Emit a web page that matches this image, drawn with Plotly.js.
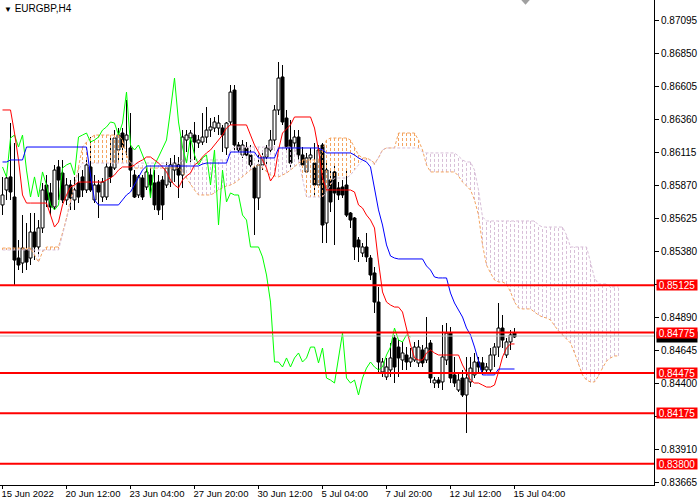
<!DOCTYPE html>
<html><head><meta charset="utf-8">
<script src="https://cdn.plot.ly/plotly-3.0.1.min.js"></script>
<style>html,body{margin:0;padding:0;background:#fff}#chart{width:700px;height:500px}</style>
</head><body><div id="chart"></div>
<script>
const symbolTitle = "EURGBP,H4";
const dateTickBars = [0,16,32,48,64,80,96,112,128];
const dateTickLabels = ["15 Jun 2022","20 Jun 12:00","23 Jun 04:00","27 Jun 20:00","30 Jun 12:00","5 Jul 04:00","7 Jul 20:00","12 Jul 12:00","15 Jul 04:00"];
const priceTicks = [0.87095,0.86850,0.86605,0.86360,0.86115,0.85870,0.85625,0.85380,0.85135,0.84890,0.84645,0.84400,0.84155,0.83910,0.83665];
const hiddenTicks = [0.85135,0.84155];
const levels = [0.85125,0.84775,0.84475,0.84175,0.83800];
const bidPrice = 0.84749;
const chikouShift = 26;

const open = [0.85722,0.85833,0.85930,0.85781,0.85328,0.85291,0.85388,0.85328,0.85521,0.85410,
0.85551,0.85870,0.85811,0.85707,0.86004,0.85959,0.85759,0.85870,0.85759,0.85885,
0.85930,0.85833,0.86004,0.85759,0.85870,0.85781,0.85781,0.86004,0.85996,0.86130,
0.86256,0.86204,0.86145,0.85944,0.85796,0.85922,0.85855,0.85944,0.85885,0.85892,
0.85907,0.85870,0.85892,0.85981,0.86019,0.85944,0.86204,0.86219,0.86241,0.86182,
0.86189,0.86226,0.86278,0.86293,0.86293,0.86293,0.86145,0.86338,0.86575,0.86167,
0.86093,0.86145,0.86093,0.85996,0.85774,0.86019,0.86078,0.86130,0.86204,0.86427,
0.86672,0.86367,0.86204,0.86182,0.86226,0.86093,0.85967,0.86071,0.86033,0.85870,
0.86167,0.85588,0.85907,0.85967,0.85848,0.85855,0.85870,0.85662,0.85625,0.85462,
0.85365,0.85410,0.85328,0.85217,0.85001,0.84482,0.84445,0.84497,0.84734,0.84667,
0.84571,0.84608,0.84556,0.84571,0.84549,0.84645,0.84571,0.84697,0.84400,0.84422,
0.84408,0.84571,0.84771,0.84460,0.84348,0.84437,0.84311,0.84408,0.84460,0.84556,
0.84549,0.84497,0.84497,0.84608,0.84667,0.84808,0.84608,0.84705,0.84771];
const high = [0.85930,0.85944,0.86330,0.86182,0.85462,0.85647,0.85588,0.85662,0.85662,0.85610,
0.85885,0.85944,0.85885,0.86019,0.86056,0.86056,0.85922,0.85907,0.85930,0.85959,
0.85981,0.86071,0.86226,0.85944,0.85907,0.85922,0.86033,0.86226,0.86278,0.86293,
0.86293,0.86501,0.86405,0.85981,0.85944,0.85944,0.86019,0.86019,0.85981,0.85944,
0.85937,0.86041,0.86071,0.86093,0.86078,0.86278,0.86278,0.86278,0.86338,0.86241,
0.86405,0.86449,0.86367,0.86375,0.86390,0.86316,0.86338,0.86612,0.86612,0.86189,
0.86204,0.86189,0.86167,0.86019,0.86115,0.86130,0.86167,0.86278,0.86464,0.86783,
0.86761,0.86427,0.86353,0.86278,0.86278,0.86152,0.86108,0.86145,0.86182,0.86167,
0.86182,0.86041,0.85981,0.86019,0.85892,0.85907,0.85981,0.85670,0.85633,0.85484,
0.85440,0.85514,0.85350,0.85261,0.85113,0.84586,0.84586,0.84697,0.84757,0.84719,
0.84705,0.84667,0.84660,0.84705,0.84719,0.84682,0.84890,0.84719,0.84445,0.84445,
0.84831,0.84846,0.84816,0.84593,0.84474,0.84497,0.84593,0.84593,0.84623,0.84593,
0.84593,0.84549,0.84660,0.84697,0.84994,0.84905,0.84734,0.84794,0.84808];
const low = [0.85647,0.85759,0.85759,0.85128,0.85239,0.85217,0.85239,0.85276,0.85313,0.85350,
0.85514,0.85707,0.85647,0.85685,0.85759,0.85736,0.85722,0.85685,0.85685,0.85736,
0.85781,0.85811,0.85818,0.85736,0.85625,0.85744,0.85759,0.85885,0.85981,0.86033,
0.86056,0.86093,0.85855,0.85774,0.85774,0.85759,0.85833,0.85774,0.85685,0.85647,
0.85610,0.85848,0.85855,0.85892,0.85774,0.85848,0.86115,0.86041,0.86056,0.86145,
0.86167,0.86182,0.86226,0.86264,0.86241,0.86115,0.86093,0.86316,0.86130,0.86093,
0.86071,0.86071,0.85996,0.85499,0.85685,0.85981,0.86019,0.86093,0.86167,0.86390,
0.86316,0.86130,0.85996,0.86145,0.86056,0.85996,0.85959,0.86033,0.85796,0.85848,
0.85440,0.85440,0.85670,0.85425,0.85759,0.85774,0.85633,0.85551,0.85313,0.85298,
0.85336,0.85298,0.85165,0.84920,0.84474,0.84445,0.84422,0.84445,0.84400,0.84445,
0.84497,0.84497,0.84519,0.84556,0.84519,0.84519,0.84549,0.84400,0.84363,0.84363,
0.84348,0.84534,0.84400,0.84370,0.84333,0.84296,0.84029,0.84370,0.84437,0.84482,
0.84460,0.84474,0.84482,0.84519,0.84593,0.84660,0.84586,0.84645,0.84734];
const close = [0.85796,0.85922,0.85818,0.85313,0.85276,0.85402,0.85298,0.85521,0.85410,0.85551,
0.85833,0.85759,0.85707,0.85981,0.85907,0.85759,0.85870,0.85774,0.85833,0.85781,
0.85833,0.86019,0.85833,0.85870,0.85818,0.85892,0.86004,0.85930,0.86219,0.86241,
0.86152,0.86241,0.85981,0.85781,0.85930,0.85781,0.85967,0.85870,0.85722,0.85685,
0.85722,0.85996,0.86019,0.86033,0.85944,0.86226,0.86241,0.86256,0.86189,0.86204,
0.86226,0.86278,0.86301,0.86338,0.86330,0.86241,0.86330,0.86560,0.86167,0.86130,
0.86167,0.86093,0.86019,0.85774,0.86019,0.86078,0.86145,0.86204,0.86427,0.86664,
0.86338,0.86152,0.86033,0.86226,0.86093,0.86019,0.86071,0.86093,0.85870,0.86130,
0.85573,0.85981,0.85744,0.85811,0.85796,0.85796,0.85647,0.85610,0.85410,0.85410,
0.85410,0.85336,0.85202,0.85001,0.84556,0.84556,0.84519,0.84586,0.84519,0.84586,
0.84623,0.84556,0.84586,0.84667,0.84667,0.84549,0.84660,0.84437,0.84422,0.84400,
0.84593,0.84771,0.84437,0.84400,0.84422,0.84311,0.84437,0.84511,0.84556,0.84519,
0.84497,0.84519,0.84608,0.84667,0.84808,0.84719,0.84705,0.84757,0.84742];

const tenkan = [0.86427,0.86427,0.86427,0.86256,0.86056,0.85796,0.85736,0.85736,0.85736,0.85736,
0.85736,0.85736,0.85647,0.85558,0.85595,0.85722,0.85796,0.85855,0.85870,0.85892,
0.85892,0.85892,0.85892,0.85892,0.85892,0.85892,0.85907,0.85922,0.85944,0.85981,
0.86004,0.86004,0.86004,0.86019,0.86041,0.86056,0.86078,0.86078,0.86056,0.86033,
0.86004,0.85967,0.85907,0.85870,0.85848,0.85907,0.85937,0.85959,0.86019,0.86041,
0.86078,0.86108,0.86130,0.86167,0.86204,0.86241,0.86293,0.86316,0.86316,0.86316,
0.86316,0.86316,0.86241,0.86167,0.86115,0.86056,0.85996,0.85900,0.85944,0.86130,
0.86256,0.86286,0.86316,0.86375,0.86375,0.86375,0.86375,0.86375,0.86293,0.86130,
0.85922,0.85833,0.85833,0.85833,0.85833,0.85833,0.85833,0.85833,0.85818,0.85722,
0.85699,0.85647,0.85610,0.85551,0.85298,0.85076,0.85001,0.84979,0.84964,0.84964,
0.84927,0.84808,0.84682,0.84586,0.84571,0.84571,0.84623,0.84645,0.84623,0.84608,
0.84608,0.84608,0.84608,0.84608,0.84608,0.84534,0.84482,0.84422,0.84400,0.84400,
0.84385,0.84370,0.84370,0.84385,0.84482,0.84593,0.84660,0.84690,0.84690];
const kijun = [0.86041,0.86041,0.86056,0.86056,0.86056,0.86056,0.86152,0.86152,0.86152,0.86152,
0.86152,0.86152,0.86152,0.86152,0.86152,0.86152,0.86152,0.86152,0.86152,0.86152,
0.86152,0.86152,0.85944,0.85759,0.85722,0.85722,0.85722,0.85722,0.85722,0.85722,
0.85759,0.85796,0.85818,0.85870,0.85930,0.85981,0.86011,0.86011,0.86011,0.86011,
0.86011,0.86011,0.86011,0.86011,0.86011,0.86011,0.86011,0.86011,0.86011,0.86011,
0.86026,0.86033,0.86033,0.86033,0.86033,0.86033,0.86033,0.86115,0.86115,0.86115,
0.86115,0.86115,0.86115,0.86115,0.86071,0.86071,0.86071,0.86071,0.86071,0.86145,
0.86145,0.86145,0.86145,0.86145,0.86145,0.86145,0.86145,0.86145,0.86145,0.86145,
0.86130,0.86108,0.86108,0.86108,0.86108,0.86108,0.86108,0.86108,0.86093,0.86071,
0.86056,0.86041,0.86004,0.85833,0.85685,0.85573,0.85425,0.85343,0.85328,0.85321,
0.85321,0.85321,0.85321,0.85321,0.85321,0.85321,0.85269,0.85239,0.85187,0.85180,
0.85180,0.85180,0.85068,0.84994,0.84942,0.84890,0.84808,0.84757,0.84667,0.84556,
0.84460,0.84460,0.84460,0.84460,0.84504,0.84504,0.84504,0.84504,0.84504];
const senkouA = [0.85402,0.85402,0.85402,0.85402,0.85402,0.85402,0.85402,0.85402,0.85350,0.85298,
0.85373,0.85410,0.85410,0.85410,0.85410,0.85514,0.85625,0.85759,0.85870,0.86004,
0.86152,0.86189,0.86219,0.86241,0.86241,0.86241,0.86241,0.86241,0.86241,0.86241,
0.86204,0.86093,0.86033,0.85996,0.85996,0.85996,0.85996,0.85996,0.85996,0.85996,
0.85996,0.85996,0.85996,0.85996,0.85996,0.85967,0.85922,0.85870,0.85833,0.85796,
0.85796,0.85796,0.85796,0.85811,0.85833,0.85848,0.85863,0.85870,0.85885,0.85907,
0.85930,0.85952,0.85981,0.86011,0.86019,0.85996,0.85967,0.85944,0.85937,0.85930,
0.85944,0.85959,0.85981,0.86004,0.86033,0.86056,0.86056,0.86056,0.86056,0.86056,
0.86130,0.86204,0.86219,0.86219,0.86219,0.86219,0.86219,0.86204,0.86145,0.86093,
0.86071,0.86071,0.86056,0.86033,0.86071,0.86130,0.86145,0.86145,0.86145,0.86256,
0.86256,0.86256,0.86256,0.86256,0.86204,0.86130,0.86019,0.85967,0.85967,0.85967,
0.85967,0.85967,0.85967,0.85967,0.85937,0.85892,0.85863,0.85833,0.85759,0.85647,
0.85425,0.85276,0.85217,0.85165,0.85150,0.85150,0.85135,0.85076,0.85001,0.84957,
0.84950,0.84950,0.84950,0.84927,0.84905,0.84890,0.84883,0.84868,0.84823,0.84786,
0.84757,0.84727,0.84697,0.84623,0.84534,0.84460,0.84422,0.84408,0.84408,0.84452,
0.84511,0.84563,0.84586,0.84601,0.84601];
const senkouB = [0.85388,0.85388,0.85388,0.85388,0.85388,0.85388,0.85388,0.85388,0.85388,0.85388,
0.85388,0.85388,0.85388,0.85388,0.85388,0.85500,0.85610,0.85740,0.85850,0.85981,
0.86033,0.86033,0.86033,0.86033,0.86033,0.86033,0.86033,0.86033,0.86033,0.86033,
0.86033,0.86033,0.86033,0.86033,0.86033,0.86033,0.86033,0.86033,0.86033,0.86033,
0.86033,0.86033,0.86033,0.86033,0.86033,0.86056,0.86056,0.86056,0.86056,0.86056,
0.86056,0.86056,0.86056,0.86056,0.86056,0.86056,0.86056,0.86130,0.86152,0.86152,
0.86152,0.86152,0.86152,0.86152,0.86152,0.86152,0.86152,0.86152,0.86152,0.86152,
0.86152,0.86152,0.86152,0.86152,0.86056,0.85907,0.85781,0.85781,0.85781,0.85781,
0.85781,0.85818,0.85870,0.85922,0.85922,0.85922,0.85922,0.85944,0.85981,0.86019,
0.86056,0.86056,0.86056,0.86019,0.86071,0.86130,0.86145,0.86145,0.86145,0.86145,
0.86145,0.86145,0.86145,0.86145,0.86145,0.86115,0.86108,0.86108,0.86108,0.86108,
0.86108,0.86108,0.86108,0.86108,0.86085,0.86056,0.86041,0.86041,0.85981,0.85833,
0.85633,0.85603,0.85603,0.85603,0.85603,0.85603,0.85603,0.85603,0.85603,0.85603,
0.85603,0.85603,0.85603,0.85603,0.85573,0.85558,0.85558,0.85558,0.85558,0.85558,
0.85558,0.85499,0.85410,0.85410,0.85410,0.85410,0.85410,0.85298,0.85180,0.85135,
0.85135,0.85135,0.85113,0.85113,0.85113];

const FONT = 'Liberation Sans, Arial, sans-serif';

// candle wicks and bodies (bar traces with base)
const idx = close.map((_, i) => i);
const wick = {
  type: 'bar', x: idx, base: low, y: high.map((h, i) => h - low[i]), width: 0.25,
  marker: {color: '#000000', line: {width: 0}}, hoverinfo: 'skip'
};
const body = {
  type: 'bar', x: idx,
  base: open.map((o, i) => Math.min(o, close[i])),
  y: open.map((o, i) => Math.abs(close[i] - o)),
  width: 0.75,
  marker: {color: open.map((o, i) => close[i] >= o ? '#FFFFFF' : '#000000'), line: {color: '#000000', width: 1}},
  hoverinfo: 'skip'
};

// cloud hatch between Senkou A and B
const hatchO = {x: [], y: []}, hatchT = {x: [], y: []};
senkouA.forEach((a, k) => {
  const b = senkouB[k];
  const h = a >= b ? hatchO : hatchT;
  h.x.push(k, k, null); h.y.push(a, b, null);
});
const spanIdx = senkouA.map((_, k) => k);
const DASH = '3px,2px';
const hatchThistle = {type: 'scatter', mode: 'lines', x: hatchT.x, y: hatchT.y, line: {color: '#D8BFD8', width: 1, dash: DASH}, connectgaps: false, hoverinfo: 'skip'};
const hatchSandy = {type: 'scatter', mode: 'lines', x: hatchO.x, y: hatchO.y, line: {color: '#F4A460', width: 1, dash: DASH}, connectgaps: false, hoverinfo: 'skip'};
const spanA = {type: 'scatter', mode: 'lines', x: spanIdx, y: senkouA, line: {color: '#F4A460', width: 1, dash: DASH}, hoverinfo: 'skip'};
const spanB = {type: 'scatter', mode: 'lines', x: spanIdx, y: senkouB, line: {color: '#D8BFD8', width: 1, dash: DASH}, hoverinfo: 'skip'};

// Chikou span: closes shifted back
const chX = [], chY = [];
close.forEach((c, i) => { if (i >= chikouShift) { chX.push(i - chikouShift); chY.push(c); } });
const chikou = {type: 'scatter', mode: 'lines', x: chX, y: chY, line: {color: '#00FF00', width: 1}, hoverinfo: 'skip'};
const tenkanTr = {type: 'scatter', mode: 'lines', x: idx, y: tenkan, line: {color: '#FF0000', width: 1}, hoverinfo: 'skip'};
const kijunTr = {type: 'scatter', mode: 'lines', x: idx, y: kijun, line: {color: '#0000FF', width: 1}, hoverinfo: 'skip'};

const shapes = [];
shapes.push({type: 'line', xref: 'paper', x0: 0, x1: 1, yref: 'y', y0: bidPrice, y1: bidPrice, line: {color: '#C0C0C0', width: 1}});
levels.forEach(lv => shapes.push({type: 'line', xref: 'paper', x0: 0, x1: 1, yref: 'y', y0: lv, y1: lv, line: {color: '#FF0000', width: 2}}));
// small grey shift marker at the top
shapes.push({type: 'path', xref: 'paper', yref: 'paper', path: 'M 0.797,1 L 0.810,1 L 0.8035,0.990 Z', fillcolor: '#A0A0A0', line: {width: 0}});

const annotations = [];
annotations.push({xref: 'paper', yref: 'paper', x: 0, y: 1, xanchor: 'left', yanchor: 'top', xshift: 2, yshift: -1,
  text: '<span style="font-size:8px">▼</span> ' + symbolTitle, showarrow: false, font: {family: FONT, size: 10, color: '#000000'}});
// bid price box: mostly hidden under the 0.84775 label, as in the original
annotations.push({xref: 'paper', x: 1, xanchor: 'left', xshift: 2, yref: 'y', y: bidPrice, yanchor: 'middle', yshift: -1,
  text: ' ', showarrow: false, bgcolor: '#000000', borderpad: 0, width: 40, height: 10});
levels.forEach(lv => annotations.push({xref: 'paper', x: 1, xanchor: 'left', xshift: 2, yref: 'y', y: lv, yanchor: 'middle',
  text: lv.toFixed(5), showarrow: false, bgcolor: '#FF0000', borderpad: 0, width: 40, height: 10, align: 'center',
  font: {family: FONT, size: 10, color: '#FFFFFF'}}));

const layout = {
  width: 700, height: 500,
  margin: {l: 0, r: 46, t: 0, b: 15, pad: 0},
  paper_bgcolor: '#FFFFFF', plot_bgcolor: '#FFFFFF',
  showlegend: false, hovermode: false, barmode: 'overlay',
  xaxis: {
    range: [-0.625, 162.875], tickmode: 'array', tickvals: dateTickBars, ticktext: dateTickLabels,
    ticks: 'outside', ticklen: 3, tickwidth: 1, tickcolor: '#000000', ticklabelposition: 'outside right', tickangle: 0,
    ticklabelshift: -2,
    showline: true, linecolor: '#000000', linewidth: 1, showgrid: false, zeroline: false, automargin: false,
    tickfont: {family: FONT, size: 9.5, color: '#000000'}
  },
  yaxis: {
    range: [0.836429, 0.872435], side: 'right', tickmode: 'array', tickvals: priceTicks,
    ticktext: priceTicks.map(v => hiddenTicks.includes(v) ? '' : v.toFixed(5)),
    ticks: 'outside', ticklen: 4, tickwidth: 1, tickcolor: '#000000',
    showline: true, linecolor: '#000000', linewidth: 1, showgrid: false, zeroline: false, automargin: false,
    tickfont: {family: FONT, size: 10, color: '#000000'}
  },
  shapes: shapes, annotations: annotations
};

Plotly.newPlot('chart', [wick, body, hatchThistle, hatchSandy, spanA, spanB, chikou, tenkanTr, kijunTr], layout, {staticPlot: true});
</script>
</body></html>
